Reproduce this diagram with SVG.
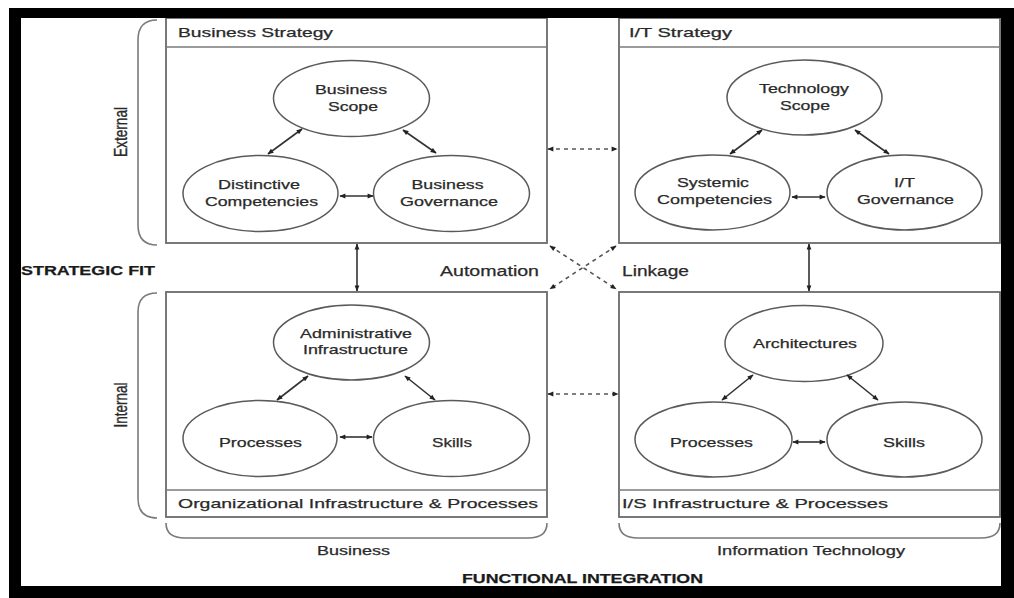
<svg xmlns="http://www.w3.org/2000/svg" width="1014" height="598" viewBox="0 0 1014 598">
<style>
.box{fill:none;stroke:#6b6b6b;stroke-width:1.8}
.div{stroke:#7a7a7a;stroke-width:1.5}
.ell{fill:#fff;stroke:#5a5a5a;stroke-width:1.5}
.t{font-family:"Liberation Sans",Arial,sans-serif;font-size:13px;fill:#2a2a2a;stroke:#2a2a2a;stroke-width:0.25}
.tc{text-anchor:middle}
.b{font-weight:bold;fill:#1a1a1a;stroke:#1a1a1a}
.br{fill:none;stroke:#7a7a7a;stroke-width:1.6}
.c{fill:none;stroke:#333;stroke-width:1.6;marker-start:url(#ah);marker-end:url(#ah)}
.d{stroke-dasharray:4 4;stroke:#555}
</style>
<defs>
<marker id="ah" viewBox="0 0 10 10" refX="9" refY="5" markerUnits="userSpaceOnUse" markerWidth="7" markerHeight="6" orient="auto-start-reverse">
<path d="M0,1 L10,5 L0,9 z" fill="#222"/>
</marker>
</defs>
<rect x="0" y="0" width="1014" height="598" fill="#fff"/>

<g id="brackets">
<path class="br" d="M157,20 Q138,20 138,40 V225 Q138,245 157,245"/>
<path class="br" d="M157,293 Q138,293 138,312 V498 Q138,518 157,518"/>
<path class="br" d="M166,523 Q166,538 185,538 H528 Q547,538 547,523"/>
<path class="br" d="M619,523 Q619,538 638,538 H981 Q1000,538 1000,523"/>
<text class="t tc" transform="translate(127,132) rotate(-90) scale(1,1.4)" style="font-size:12.5px" textLength="50" lengthAdjust="spacingAndGlyphs">External</text>
<text class="t tc" transform="translate(127,405) rotate(-90) scale(1,1.4)" style="font-size:12.5px" textLength="45" lengthAdjust="spacingAndGlyphs">Internal</text>
<text class="t tc" x="353.5" y="555" textLength="73" lengthAdjust="spacingAndGlyphs">Business</text>
<text class="t tc" x="811" y="555" textLength="188" lengthAdjust="spacingAndGlyphs">Information Technology</text>
</g>

<g id="business-strategy">
<rect class="box" x="166" y="18" width="381" height="225"/>
<line class="div" x1="166" y1="47" x2="547" y2="47"/>
<text class="t" x="178" y="37" textLength="155" lengthAdjust="spacingAndGlyphs">Business Strategy</text>
</g>
<g id="business-scope">
<ellipse class="ell" cx="351.5" cy="98.5" rx="78" ry="38"/>
<text class="t tc" x="351" y="94" textLength="72" lengthAdjust="spacingAndGlyphs">Business</text>
<text class="t tc" x="353" y="111" textLength="50" lengthAdjust="spacingAndGlyphs">Scope</text>
</g>
<g id="distinctive-competencies">
<ellipse class="ell" cx="260.5" cy="193.5" rx="77.5" ry="38"/>
<text class="t tc" x="259" y="189" textLength="82" lengthAdjust="spacingAndGlyphs">Distinctive</text>
<text class="t tc" x="261.5" y="206" textLength="113" lengthAdjust="spacingAndGlyphs">Competencies</text>
</g>
<g id="business-governance">
<ellipse class="ell" cx="451.5" cy="193.5" rx="78" ry="38"/>
<text class="t tc" x="447.5" y="189" textLength="72" lengthAdjust="spacingAndGlyphs">Business</text>
<text class="t tc" x="449" y="206" textLength="98" lengthAdjust="spacingAndGlyphs">Governance</text>
</g>

<g id="it-strategy">
<rect class="box" x="619" y="18" width="381" height="225"/>
<line class="div" x1="619" y1="47" x2="1000" y2="47"/>
<text class="t" x="629" y="37" textLength="103" lengthAdjust="spacingAndGlyphs">I/T Strategy</text>
</g>
<g id="technology-scope">
<ellipse class="ell" cx="804.5" cy="97.5" rx="77.5" ry="37.5"/>
<text class="t tc" x="804" y="93" textLength="90" lengthAdjust="spacingAndGlyphs">Technology</text>
<text class="t tc" x="805" y="110" textLength="50" lengthAdjust="spacingAndGlyphs">Scope</text>
</g>
<g id="systemic-competencies">
<ellipse class="ell" cx="712.5" cy="192.5" rx="77.5" ry="37.5"/>
<text class="t tc" x="713" y="187" textLength="72" lengthAdjust="spacingAndGlyphs">Systemic</text>
<text class="t tc" x="714.5" y="204" textLength="115" lengthAdjust="spacingAndGlyphs">Competencies</text>
</g>
<g id="it-governance">
<ellipse class="ell" cx="904.5" cy="192.5" rx="77.5" ry="37.5"/>
<text class="t tc" x="904.5" y="187" textLength="21" lengthAdjust="spacingAndGlyphs">I/T</text>
<text class="t tc" x="905.5" y="204" textLength="97" lengthAdjust="spacingAndGlyphs">Governance</text>
</g>

<g id="org-infrastructure">
<rect class="box" x="166" y="292" width="381" height="225"/>
<line class="div" x1="166" y1="490" x2="547" y2="490"/>
<text class="t" x="178" y="508" style="font-size:13.5px" textLength="360" lengthAdjust="spacingAndGlyphs">Organizational Infrastructure &amp; Processes</text>
</g>
<g id="administrative-infrastructure">
<ellipse class="ell" cx="351.5" cy="342.5" rx="78" ry="37.5"/>
<text class="t tc" x="356" y="338" textLength="112" lengthAdjust="spacingAndGlyphs">Administrative</text>
<text class="t tc" x="355.5" y="354" textLength="105" lengthAdjust="spacingAndGlyphs">Infrastructure</text>
</g>
<g id="business-processes">
<ellipse class="ell" cx="260" cy="438.5" rx="77" ry="38"/>
<text class="t tc" x="260.5" y="447" textLength="83" lengthAdjust="spacingAndGlyphs">Processes</text>
</g>
<g id="business-skills">
<ellipse class="ell" cx="451.5" cy="438.5" rx="78" ry="38"/>
<text class="t tc" x="452" y="447" textLength="40" lengthAdjust="spacingAndGlyphs">Skills</text>
</g>

<g id="is-infrastructure">
<rect class="box" x="619" y="292" width="381" height="225"/>
<line class="div" x1="619" y1="490" x2="1000" y2="490"/>
<text class="t" x="622" y="508" style="font-size:13.5px" textLength="266" lengthAdjust="spacingAndGlyphs">I/S Infrastructure &amp; Processes</text>
</g>
<g id="architectures">
<ellipse class="ell" cx="804" cy="343.5" rx="79" ry="38"/>
<text class="t tc" x="805" y="348" textLength="104" lengthAdjust="spacingAndGlyphs">Architectures</text>
</g>
<g id="it-processes">
<ellipse class="ell" cx="713.5" cy="439.5" rx="78.5" ry="37.5"/>
<text class="t tc" x="711.5" y="447" textLength="83" lengthAdjust="spacingAndGlyphs">Processes</text>
</g>
<g id="it-skills">
<ellipse class="ell" cx="904.5" cy="439.5" rx="77.5" ry="37.5"/>
<text class="t tc" x="904" y="447" textLength="42" lengthAdjust="spacingAndGlyphs">Skills</text>
</g>

<g id="labels">
<text class="t" x="440" y="276" style="font-size:14px" textLength="99" lengthAdjust="spacingAndGlyphs">Automation</text>
<text class="t" x="622" y="276" style="font-size:14px" textLength="67" lengthAdjust="spacingAndGlyphs">Linkage</text>
<text class="t b" x="21" y="275" style="font-size:13.5px" textLength="134" lengthAdjust="spacingAndGlyphs">STRATEGIC FIT</text>
<text class="t b" x="462" y="583" style="font-size:13px" textLength="241" lengthAdjust="spacingAndGlyphs">FUNCTIONAL INTEGRATION</text>
</g>

<g id="connectors">
<line class="c" x1="302" y1="129" x2="268" y2="154"/>
<line class="c" x1="403" y1="130" x2="436" y2="153"/>
<line class="c" x1="340" y1="196" x2="373" y2="196"/>
<line class="c" x1="762" y1="130" x2="730" y2="154"/>
<line class="c" x1="855" y1="130" x2="889" y2="154"/>
<line class="c" x1="792" y1="197" x2="825" y2="197"/>
<line class="c" x1="308" y1="376" x2="277" y2="400"/>
<line class="c" x1="405" y1="376" x2="435" y2="400"/>
<line class="c" x1="340" y1="437" x2="372" y2="437"/>
<line class="c" x1="753" y1="375" x2="722" y2="400"/>
<line class="c" x1="847" y1="375" x2="878" y2="400"/>
<line class="c" x1="793" y1="442" x2="825" y2="442"/>
<line class="c" x1="357" y1="244" x2="357" y2="291"/>
<line class="c" x1="809" y1="244" x2="809" y2="291"/>
<line class="c d" x1="548" y1="149" x2="617" y2="149"/>
<line class="c d" x1="548" y1="394" x2="618" y2="394"/>
<line class="c d" x1="550" y1="246" x2="616" y2="289"/>
<line class="c d" x1="616" y1="246" x2="550" y2="289"/>
</g>

<path id="frame" fill="#000" fill-rule="evenodd" d="M9,8 H1014 V598 H9 Z M21,18 V586 H1001 V18 Z"/>
</svg>
